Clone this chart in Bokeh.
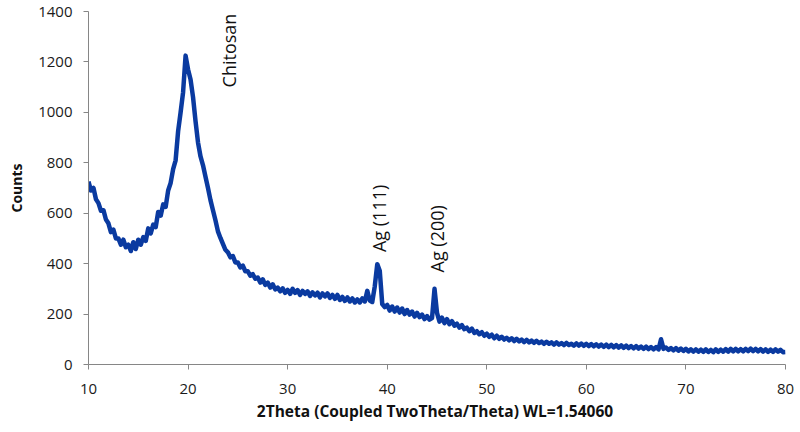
import math
from bokeh.plotting import figure
from bokeh.models import FixedTicker, ColumnDataSource, Range1d
from bokeh.core.properties import value
from bokeh.embed import file_html
from bokeh.resources import INLINE

two_theta = [10 + 0.25 * i for i in range(281)]
counts = [
    725, 690, 700, 655,    # 10
    640, 610, 612, 575,    # 11
    560, 525, 535, 500,    # 12
    500, 475, 495, 465,    # 13
    475, 450, 485, 458,    # 14
    495, 475, 505, 490,    # 15
    540, 520, 555, 545,    # 16
    605, 590, 635, 625,    # 17
    690, 720, 775, 810,    # 18
    925, 1000, 1080, 1225,  # 19
    1170, 1130, 1060, 965,  # 20
    880, 825, 790, 745,    # 21
    700, 652, 612, 572,    # 22
    528, 502, 478, 455,    # 23
    445, 425, 430, 405,    # 24
    405, 385, 392, 370,    # 25
    370, 352, 358, 340,    # 26
    345, 325, 338, 316,    # 27
    325, 305, 318, 298,    # 28
    305, 290, 302, 284,    # 29
    296, 280, 300, 284,    # 30
    295, 276, 292, 280,    # 31
    290, 272, 286, 274,    # 32
    285, 266, 282, 270,    # 33
    282, 264, 276, 260,    # 34
    276, 256, 268, 252,    # 35
    266, 250, 262, 246,    # 36
    258, 246, 262, 250,    # 37
    292, 254, 248, 310,    # 38
    398, 372, 240, 228,    # 39
    236, 214, 230, 210,    # 40
    226, 206, 222, 200,    # 41
    216, 198, 210, 190,    # 42
    205, 188, 198, 180,    # 43
    192, 178, 184, 300,    # 44
    205, 170, 186, 164,    # 45
    180, 160, 172, 154,    # 46
    162, 146, 156, 140,    # 47
    146, 132, 142, 125,    # 48
    132, 120, 128, 114,    # 49
    122, 110, 118, 104,    # 50
    114, 102, 110, 99,     # 51
    106, 96, 104, 93,      # 52
    102, 92, 99, 89,       # 53
    98, 88, 95, 86,        # 54
    94, 85, 91, 82,        # 55
    90, 82, 88, 79,        # 56
    88, 79, 85, 77,        # 57
    86, 77, 82, 75,        # 58
    84, 75, 83, 74,        # 59
    82, 73, 81, 72,        # 60
    80, 71, 79, 70,        # 61
    79, 69, 78, 68,        # 62
    77, 67, 76, 66,        # 63
    75, 65, 73, 64,        # 64
    73, 63, 71, 62,        # 65
    71, 61, 69, 60,        # 66
    69, 60, 100, 62,       # 67
    67, 58, 65, 56,        # 68
    65, 55, 63, 54,        # 69
    62, 52, 60, 51,        # 70
    60, 51, 59, 50,        # 71
    60, 50, 58, 49,        # 72
    60, 50, 59, 51,        # 73
    61, 51, 62, 52,        # 74
    62, 52, 61, 52,        # 75
    62, 53, 63, 53,        # 76
    62, 52, 61, 51,        # 77
    60, 50, 59, 50,        # 78
    60, 51, 58, 49,        # 79
    50,                    # 80
]

x_ticks = [10, 20, 30, 40, 50, 60, 70, 80]
y_ticks = [0, 200, 400, 600, 800, 1000, 1200, 1400]

label_texts = ["Chitosan", "Ag (111)", "Ag (200)"]
label_x = [24.1, 39.2, 44.95]
label_y = [1099, 446, 365]

p = figure(width=800, height=432, output_backend="svg", toolbar_location=None,
           x_range=Range1d(10, 80), y_range=Range1d(0, 1400),
           min_border_left=88, min_border_right=15, min_border_top=11, min_border_bottom=68)

p.line(two_theta, counts, line_color="#0a3aa0", line_width=4.5, line_join="round")

src = ColumnDataSource(dict(x=label_x, y=label_y, t=label_texts))
p.text(x="x", y="y", text="t", source=src, angle=math.pi / 2,
       text_align="left", text_baseline="middle",
       text_font=value("Open Sans"), text_font_size="18px", text_color="#111111")

p.grid.visible = False
p.outline_line_color = None
p.background_fill_color = "white"
p.border_fill_color = "white"

for ax in (p.xaxis[0], p.yaxis[0]):
    ax.axis_line_color = "#868686"
    ax.major_tick_line_color = "#868686"
    ax.major_tick_out = 5
    ax.major_tick_in = 0
    ax.minor_tick_line_color = None
    ax.major_label_text_font = "Open Sans"
    ax.major_label_text_font_size = "15px"
    ax.major_label_text_color = "#1a1a1a"
    ax.axis_label_text_font = "Open Sans"
    ax.axis_label_text_font_style = "bold"
    ax.axis_label_text_font_size = "14px"
    ax.axis_label_text_color = "#111111"

p.xaxis.axis_label_text_font_size = "15.5px"
p.xaxis.ticker = FixedTicker(ticks=x_ticks)
p.yaxis.ticker = FixedTicker(ticks=y_ticks)
p.xaxis.axis_label = "2Theta (Coupled TwoTheta/Theta)  WL=1.54060"
p.yaxis.axis_label = "Counts"
p.xaxis.major_label_standoff = 14
p.yaxis.major_label_standoff = 11
p.xaxis.axis_label_standoff = 3
p.yaxis.axis_label_standoff = 9

open("out.html", "w").write(file_html(p, INLINE))
